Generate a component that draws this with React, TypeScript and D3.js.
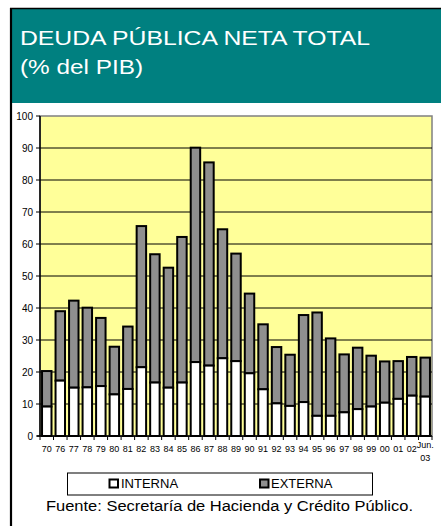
import React from "react";
import * as d3 from "d3";

const categories = ["70","76","77","78","79","80","81","82","83","84","85","86","87","88","89","90","91","92","93","94","95","96","97","98","99","00","01","02","Jun.03"];
const interna = [9.2,17.3,15.1,15.2,15.6,13.0,14.7,21.5,16.7,15.1,16.7,23.1,22.0,24.3,23.4,19.6,14.6,10.2,9.4,10.6,6.3,6.3,7.4,8.4,9.2,10.4,11.6,12.6,12.3];
const total = [20.3,39.0,42.3,40.1,36.9,27.9,34.2,65.6,56.8,52.6,62.2,90.1,85.5,64.6,57.0,44.5,34.9,27.8,25.4,37.8,38.6,30.5,25.5,27.6,25.1,23.3,23.4,24.7,24.5];
const yTicks = [0,10,20,30,40,50,60,70,80,90,100];

export default function App() {
  const W = 441, H = 526;
  const left = 40, right = 432, top = 116, bottom = 436;
  const x = d3.scaleBand<string>().domain(categories).range([left, right]).paddingInner(0.3).paddingOuter(0.15);
  const band = d3.scaleBand<string>().domain(categories).range([left, right]);
  const y = d3.scaleLinear().domain([0, 100]).range([bottom, top]);
  const font = "Arial, 'Liberation Sans', sans-serif";
  return (
    <svg width={W} height={H} style={{ position: "absolute", left: 0, top: 0 }} fontFamily={font}>
      <rect x={0} y={0} width={W} height={H} fill="#fff" />
      <rect x={11} y={8} width={W - 11} height={95} fill="#008080" />
      <line x1={10} y1={8.5} x2={W} y2={8.5} stroke="#000" strokeWidth={1.5} />
      <line x1={11} y1={8} x2={11} y2={H} stroke="#000" strokeWidth={2.2} />
      <text x={20} y={45} fill="#fff" fontSize={21} textLength={350} lengthAdjust="spacingAndGlyphs">DEUDA PÚBLICA NETA TOTAL</text>
      <text x={20} y={74} fill="#fff" fontSize={21} textLength={123} lengthAdjust="spacingAndGlyphs">(% del PIB)</text>

      <rect x={left} y={top} width={right - left} height={bottom - top} fill="#ffff99" stroke="#808080" strokeWidth={1.5} />
      {yTicks.filter(t => t > 0 && t < 100).map(t => (
        <line key={"g" + t} x1={left} x2={right} y1={y(t)} y2={y(t)} stroke="#000" strokeWidth={1} />
      ))}
      {categories.map((c, i) => {
        const bx = x(c)!;
        const bw = x.bandwidth();
        return (
          <g key={c}>
            <rect x={bx} y={y(total[i])} width={bw} height={y(interna[i]) - y(total[i])} fill="#8f8f8f" stroke="#000" strokeWidth={2} />
            <rect x={bx} y={y(interna[i])} width={bw} height={bottom - y(interna[i])} fill="#fff" stroke="#000" strokeWidth={2} />
          </g>
        );
      })}
      <line x1={left} x2={left} y1={top} y2={bottom} stroke="#000" strokeWidth={1.5} />
      <line x1={left - 3} x2={right} y1={bottom} y2={bottom} stroke="#000" strokeWidth={1.5} />
      {yTicks.map(t => (
        <g key={"t" + t}>
          <line x1={left - 4} x2={left} y1={y(t)} y2={y(t)} stroke="#000" />
          <text x={33} y={y(t) + 3.5} textAnchor="end" fontSize={10} fill="#000">{t}</text>
        </g>
      ))}
      {categories.map((c) => (
        <line key={"xt" + c} x1={band(c)!} x2={band(c)!} y1={bottom} y2={bottom + 4} stroke="#000" />
      ))}
      <line x1={right} x2={right} y1={bottom} y2={bottom + 4} stroke="#000" />
      {categories.map(c => {
        const cx = band(c)! + band.bandwidth() / 2;
        if (c === "Jun.03") {
          return (
            <g key={"l" + c}>
              <text x={cx} y={448} textAnchor="middle" fontSize={9} fill="#000">Jun.</text>
              <text x={cx} y={461} textAnchor="middle" fontSize={9} fill="#000">03</text>
            </g>
          );
        }
        return <text key={"l" + c} x={cx} y={452} textAnchor="middle" fontSize={9} fill="#000">{c}</text>;
      })}

      <rect x={67.5} y={473} width={305} height={22} fill="#fff" stroke="#000" strokeWidth={1} />
      <rect x={109.5} y={479.5} width={8.5} height={8} fill="#fff" stroke="#000" strokeWidth={2} />
      <text x={121} y={488} fontSize={13} fill="#000">INTERNA</text>
      <rect x={260} y={479.5} width={8.5} height={8} fill="#8f8f8f" stroke="#000" strokeWidth={2} />
      <text x={271} y={488} fontSize={13} fill="#000">EXTERNA</text>
      <text x={46} y={511} fontSize={15.5} fill="#000" textLength={367} lengthAdjust="spacingAndGlyphs">Fuente: Secretaría de Hacienda y Crédito Público.</text>
    </svg>
  );
}
